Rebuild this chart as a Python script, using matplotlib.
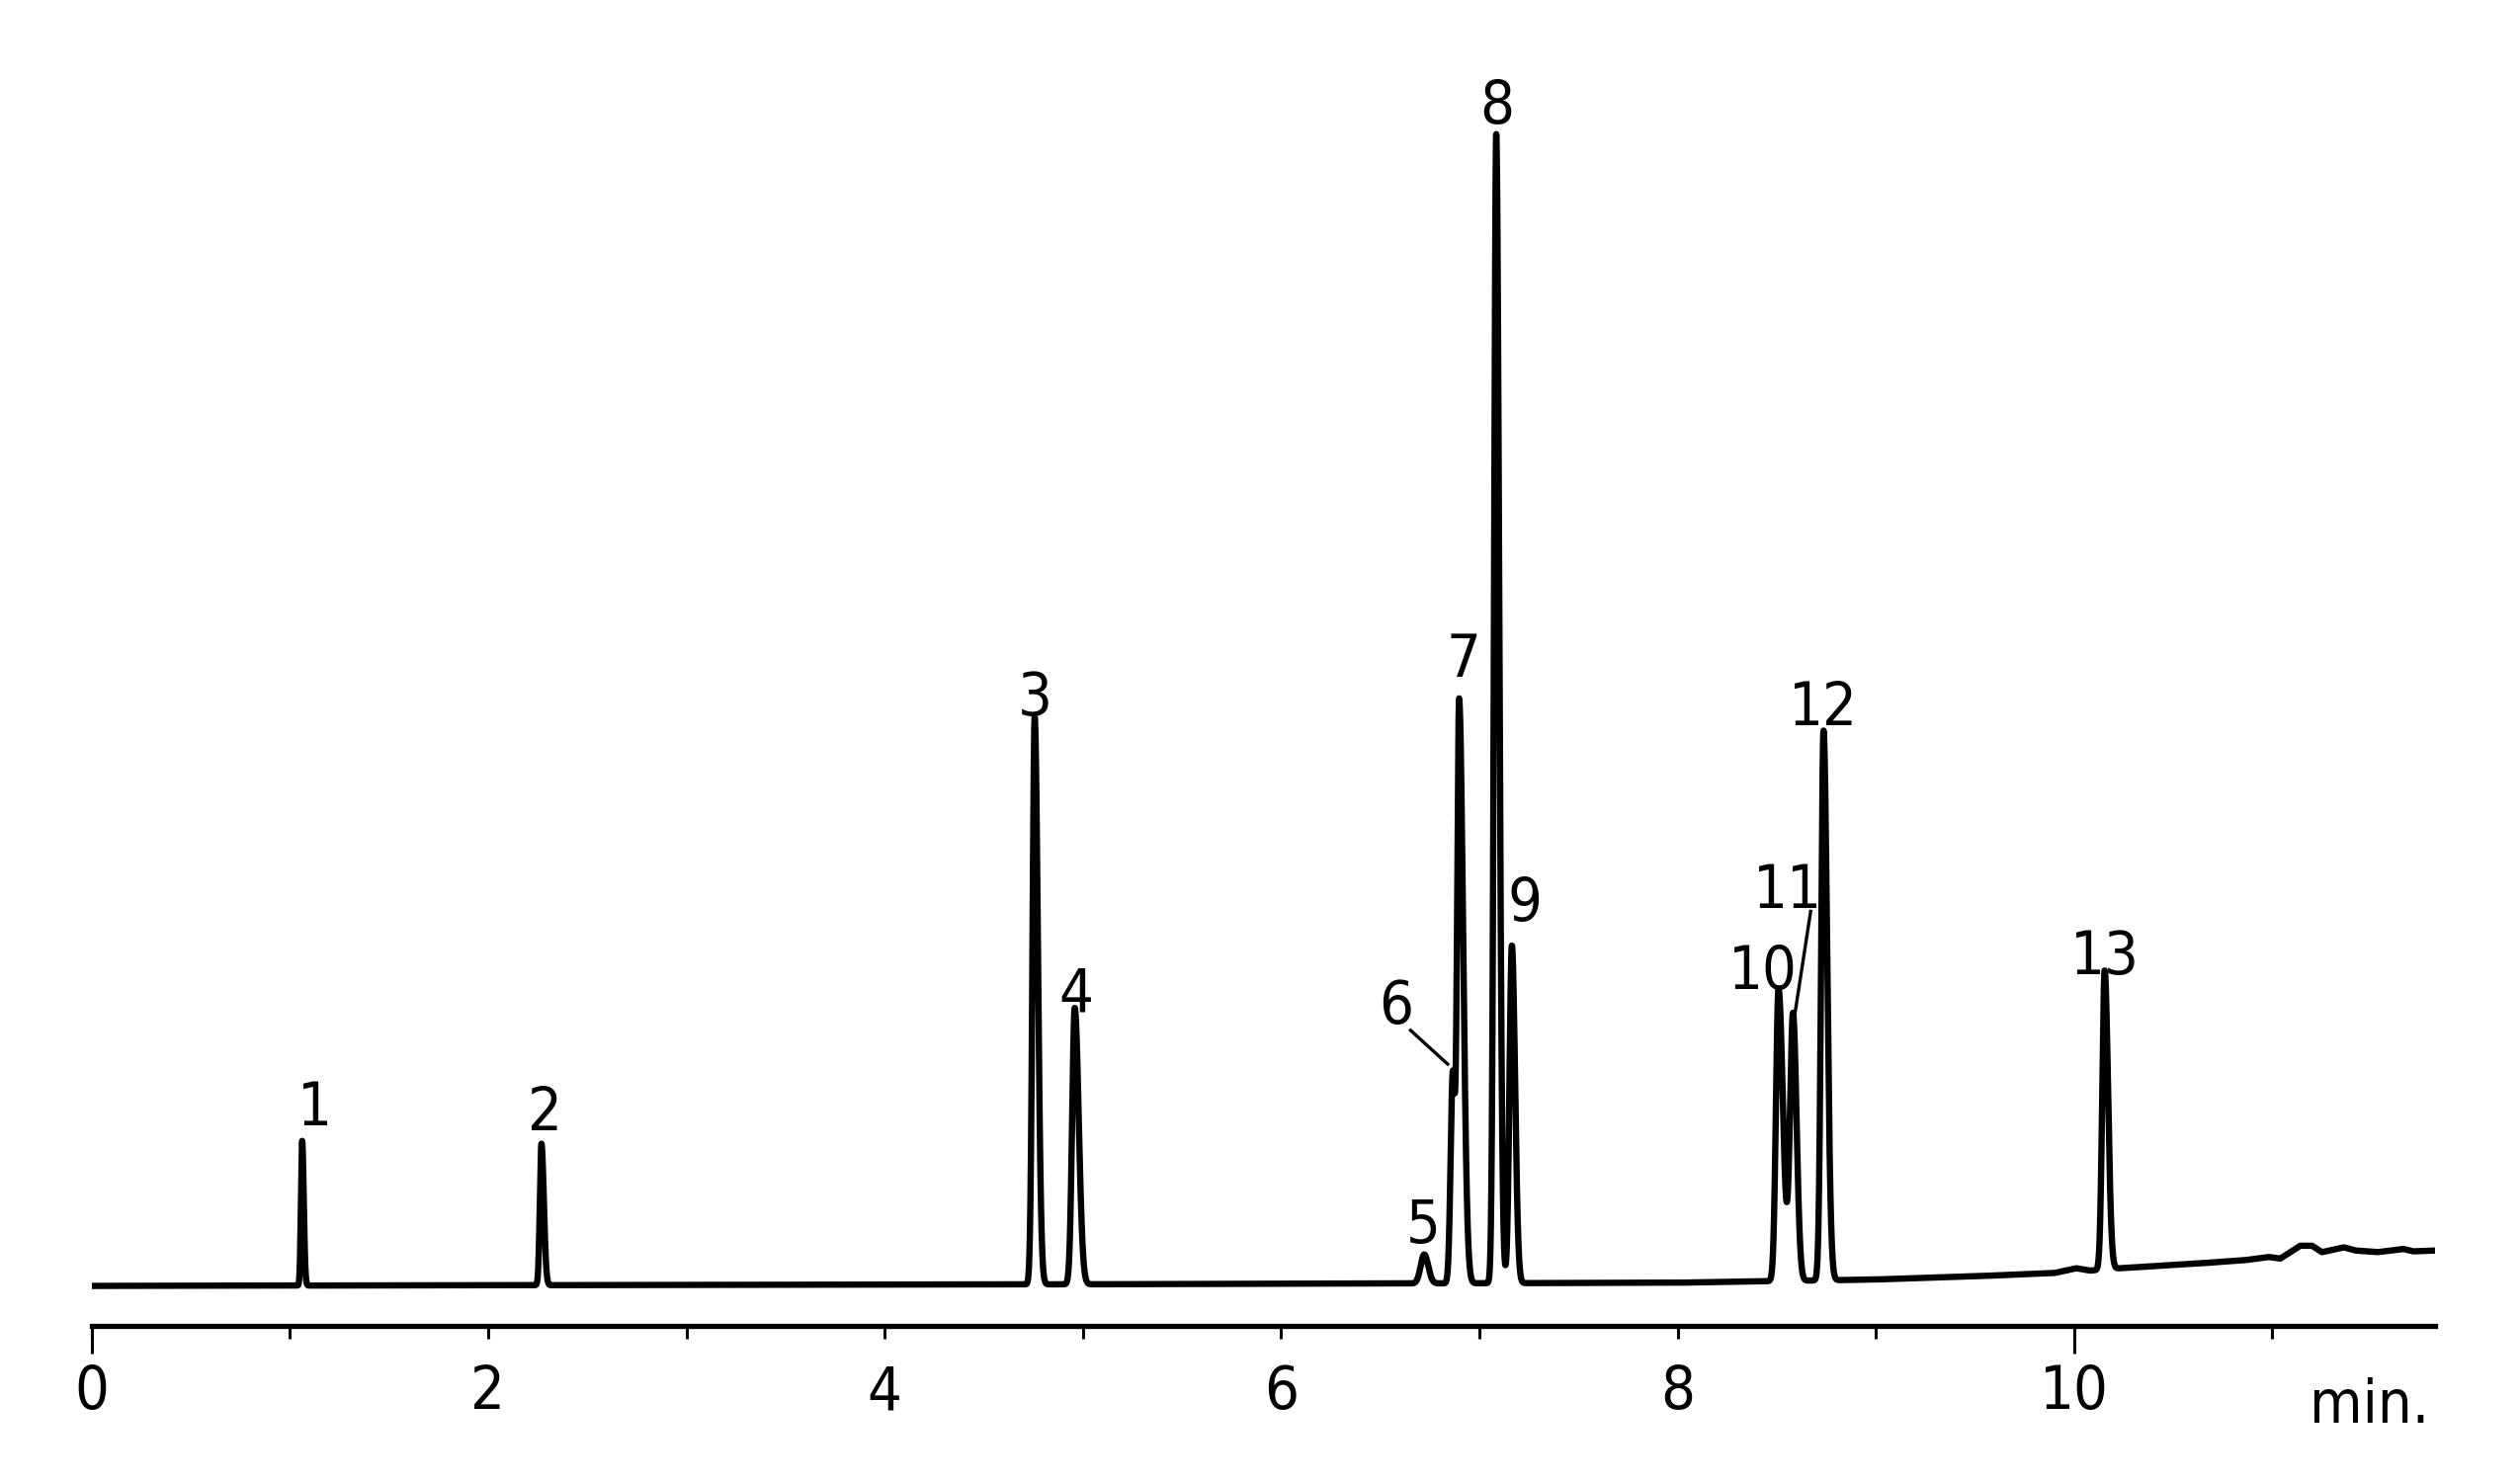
import numpy as np
import matplotlib
matplotlib.use('Agg')
import matplotlib.pyplot as plt

plt.rcParams['font.family'] = ['Liberation Sans Narrow', 'DejaVu Sans']
plt.rcParams['font.stretch'] = 'condensed'

# peak table (time in min, height in detector units)
peak_names = ['1', '2', '3', '4', '5', '6', '7', '8', '9', '10', '11', '12', '13']
peak_times = [1.062, 2.269, 4.757, 4.959, 6.722, 6.866, 6.898, 7.085, 7.164, 8.509, 8.582, 8.736, 10.154]
peak_heights = [90, 88, 353, 172, 18, 130, 362, 715, 210, 182, 166, 342, 186]
sigma_left = [0.006, 0.008, 0.011, 0.013, 0.018, 0.011, 0.010, 0.011, 0.012, 0.013, 0.015, 0.012, 0.012]
sigma_right = [0.008, 0.012, 0.016, 0.020, 0.020, 0.011, 0.020, 0.015, 0.016, 0.022, 0.018, 0.018, 0.017]

# baseline drift
drift_t = [0, 5.0, 8.0, 9.0, 9.5, 9.9, 10.01, 10.08, 10.23, 10.63, 10.86, 10.98, 11.04, 11.14, 11.2, 11.25, 11.36, 11.42, 11.53, 11.66, 11.71, 11.82]
drift_y = [0, 1, 2, 4, 6, 8, 11, 9.5, 11, 14, 16, 18, 17, 25, 25, 21, 24, 22, 21, 23, 21.5, 22]

# label positions (time, height)
label_t = [1.126, 2.285, 4.757, 4.967, 6.718, 6.580, 6.921, 7.091, 7.228, 8.428, 8.557, 8.736, 10.154]
label_y = [100, 97, 355, 171, 27, 163, 379, 723, 227, 185, 235, 349, 194]

t = np.linspace(0, 11.82, 20000)
signal = np.interp(t, drift_t, drift_y)
for i in range(len(peak_times)):
    s = np.where(t < peak_times[i], sigma_left[i], sigma_right[i])
    signal = signal + peak_heights[i] * np.exp(-0.5 * ((t - peak_times[i]) / s) ** 2)

fig = plt.figure(figsize=(12.75, 7.5), dpi=200)
ax = fig.add_axes([0.03635, 0.1052, 0.9299, 0.8514])
ax.plot(t, signal, color='black', lw=2.3, solid_joinstyle='round')

ax.set_xlim(0, 11.82)
ax.set_ylim(-25, 760)
for sp in ['top', 'right', 'left']:
    ax.spines[sp].set_visible(False)
ax.spines['bottom'].set_linewidth(1.9)
ax.set_yticks([])

ax.set_xticks(range(12))
ax.set_xticklabels([str(i) if i % 2 == 0 else '' for i in range(12)])
ax.xaxis.remove_overlapping_locs = False
ax.set_xticks([0, 10], minor=True)
ax.tick_params(axis='x', which='major', direction='out', length=4.7, width=1.1, pad=9, labelsize=22)
ax.tick_params(axis='x', which='minor', direction='out', length=10, width=1.1)

for i in range(len(peak_names)):
    ax.text(label_t[i], label_y[i], peak_names[i], ha='center', va='baseline', fontsize=22)

# leader lines for shoulder peaks
ax.plot([6.653, 6.840], [159, 138], color='black', lw=1.2)
ax.plot([8.671, 8.590], [233, 168], color='black', lw=1.2)

ax.text(11.49, -85, 'min.', ha='center', va='baseline', fontsize=22, clip_on=False)

fig.savefig('out.png', dpi=200)
